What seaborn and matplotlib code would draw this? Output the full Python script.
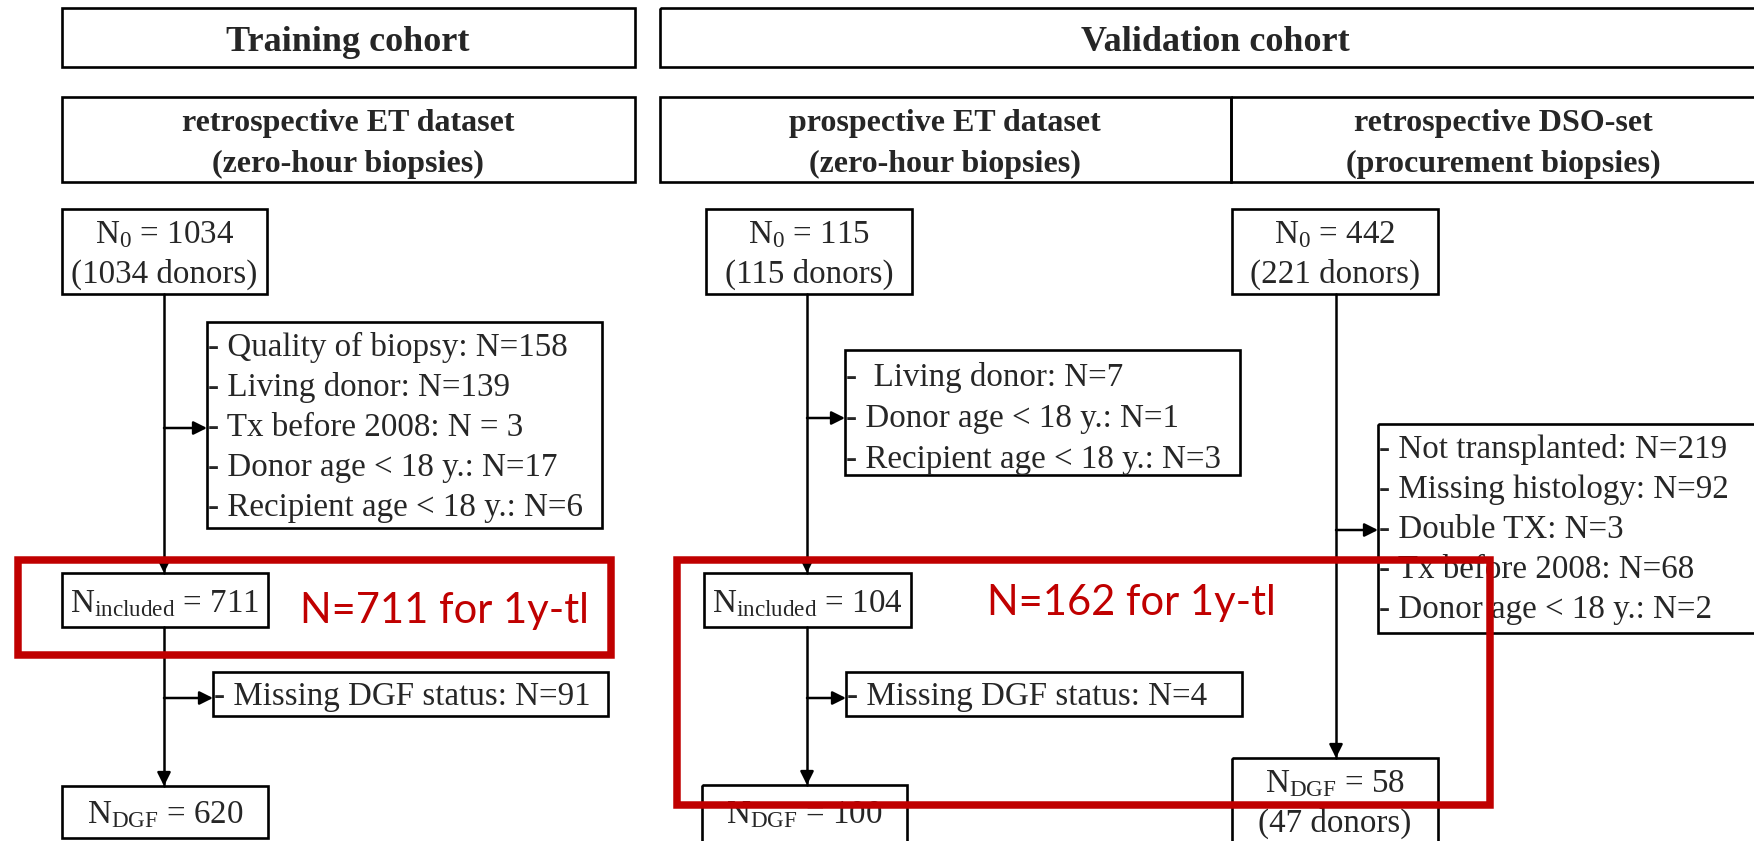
import matplotlib
matplotlib.use('Agg')
import matplotlib.pyplot as plt
from matplotlib.patches import Rectangle
import seaborn as sns

sns.set_theme(style='white')
plt.rcParams['font.family'] = ['Liberation Serif', 'DejaVu Serif']
plt.rcParams['mathtext.fontset'] = 'custom'
plt.rcParams['mathtext.rm'] = 'Liberation Serif'
plt.rcParams['mathtext.it'] = 'Liberation Serif:italic'
plt.rcParams['mathtext.bf'] = 'Liberation Serif:bold'

# === DATA ===
cohorts = ['Training cohort', 'Validation cohort']
datasets = ['retrospective ET dataset', 'prospective ET dataset', 'retrospective DSO-set']
biopsy_types = ['(zero-hour biopsies)', '(zero-hour biopsies)', '(procurement biopsies)']
n_start = [1034, 115, 442]
donors_start = [1034, 115, 221]

train_excl = ['Quality of biopsy', 'Living donor', 'Tx before 2008', 'Donor age < 18 y.', 'Recipient age < 18 y.']
train_excl_n = [158, 139, 3, 17, 6]
train_eq = ['=', '=', ' = ', '=', '=']
prosp_excl = [' Living donor', 'Donor age < 18 y.', 'Recipient age < 18 y.']
prosp_excl_n = [7, 1, 3]
dso_excl = ['Not transplanted', 'Missing histology', 'Double TX', 'Tx before 2008', 'Donor age < 18 y.']
dso_excl_n = [219, 92, 3, 68, 2]

n_included = [711, 104]
missing_dgf = [91, 4]
n_dgf = [620, 100, 58]
dso_dgf_donors = 47
n_1y_tl = [711, 162]

# === LAYOUT (pixel coords, y downwards) ===
W, H = 1754, 841
BOX_LW = 1.9
LINE_LW = 1.8
RED = '#C00000'
FS = 23.8

fig = plt.figure(figsize=(W / 100, H / 100), dpi=100)
ax = fig.add_axes([0, 0, 1, 1])
ax.set_xlim(0, W)
ax.set_ylim(H, 0)
ax.axis('off')


def box(x0, x1, y0, y1, color='black', lw=BOX_LW, z=2):
    ax.add_patch(Rectangle((x0, y0), x1 - x0, y1 - y0, fill=False, ec=color, lw=lw, zorder=z))


def arrow(x0, y0, x1, y1):
    ax.annotate('', xy=(x1, y1), xytext=(x0, y0),
                arrowprops=dict(arrowstyle='-|>', color='black', lw=LINE_LW,
                                mutation_scale=20, shrinkA=0, shrinkB=0), zorder=3)


def txt(x, y, s, ha='center', **kw):
    ax.text(x, y, s, ha=ha, va='baseline', fontsize=kw.pop('fontsize', FS), zorder=4, **kw)


# header boxes
header_x = [(62, 635), (660, 1790)]
for (x0, x1), name, cx in zip(header_x, cohorts, [348, 1215]):
    box(x0, x1, 8, 67)
    txt(cx, 51, name, fontsize=26, fontweight='bold')

# dataset boxes
dataset_x = [(62, 635), (660, 1231), (1231, 1790)]
dataset_cx = [348, 945, 1503]
for (x0, x1), cx, d, b in zip(dataset_x, dataset_cx, datasets, biopsy_types):
    box(x0, x1, 97, 182)
    txt(cx, 131, d, fontsize=23, fontweight='bold')
    txt(cx, 172, b, fontsize=23, fontweight='bold')

# starting boxes
stem_x = [164, 807, 1336]
start_x = [(62, 267), (706, 912), (1232, 1438)]
for (x0, x1), n, dn in zip(start_x, n_start, donors_start):
    box(x0, x1, 209, 294)
    cx = (x0 + x1) / 2
    txt(cx, 243, f'N$_0$ = {n}')
    txt(cx, 283, f'({dn} donors)')

# exclusion boxes
excl = [
    (train_excl, train_excl_n, train_eq, (207, 602, 322, 528), 356, 40, 428),
    (prosp_excl, prosp_excl_n, ['='] * 3, (845, 1240, 350, 475), 386, 41, 418),
    (dso_excl, dso_excl_n, ['='] * 5, (1378, 1790, 424, 633), 458, 40, 530),
]
for (labels, counts, eqs, (x0, x1, y0, y1), base, step, ay), sx in zip(excl, stem_x):
    box(x0, x1, y0, y1)
    for i, (lab, c, eq) in enumerate(zip(labels, counts, eqs)):
        txt(x0 + 1, base + i * step, f'- {lab}: N{eq}{c}', ha='left')
    arrow(sx, ay, x0, ay)

# included boxes
incl_x = [(62, 268), (704, 911)]
for (x0, x1), n, sx in zip(incl_x, n_included, stem_x):
    box(x0, x1, 573, 627)
    txt((x0 + x1) / 2, 612, r'N$_{\mathrm{included}}$' + f' = {n}')
    ax.plot([sx, sx], [294, 573], color='black', lw=LINE_LW, zorder=3)
    arrow(sx, 560, sx, 573)

# missing DGF boxes
miss_x = [(213, 608), (846, 1242)]
for (x0, x1), n, sx in zip(miss_x, missing_dgf, stem_x):
    box(x0, x1, 672, 716)
    txt(x0 + 1, 705, f'- Missing DGF status: N={n}', ha='left')
    arrow(sx, 698, x0, 698)

# DGF boxes
dgf_box = [(62, 268, 786, 838), (702, 907, 785, 870), (1232, 1438, 758, 880)]
dgf_base = [823, 823, 792]
for i, ((x0, x1, y0, y1), n, b) in enumerate(zip(dgf_box, n_dgf, dgf_base)):
    box(x0, x1, y0, y1)
    txt((x0 + x1) / 2, b, r'N$_{\mathrm{DGF}}$' + f' = {n}')
    sx = stem_x[i]
    top = 627 if i < 2 else 294
    ax.plot([sx, sx], [top, y0], color='black', lw=LINE_LW, zorder=3)
    arrow(sx, y0 - 14, sx, y0)
txt((1232 + 1438) / 2, 832, f'({dso_dgf_donors} donors)')

# red highlight boxes
red_box = [(18, 611, 560, 655), (677, 1490, 560, 805)]
red_text = [(300, 623), (987, 615)]
for (x0, x1, y0, y1), (tx, ty), n in zip(red_box, red_text, n_1y_tl):
    box(x0, x1, y0, y1, color=RED, lw=5.4, z=6)
    ax.text(tx, ty, f'N={n} for 1y-tl', ha='left', va='baseline', color=RED,
            fontsize=30, family=['Lato', 'DejaVu Sans'], zorder=6)

fig.savefig('out.png', dpi=100, facecolor='white')
